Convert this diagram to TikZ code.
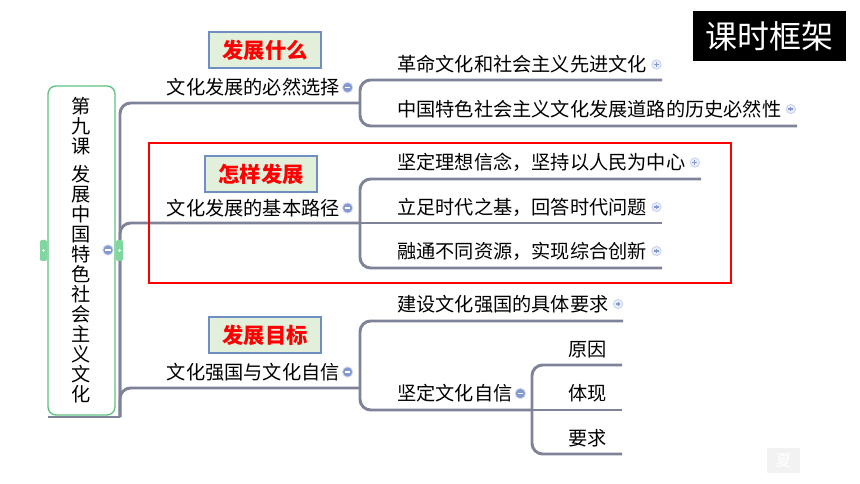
\documentclass[tikz,border=0pt]{standalone}
\usepackage{fontspec}
\setmainfont{Noto Sans CJK SC}
\usepackage{tikz}
\usetikzlibrary{positioning}
\definecolor{linegray}{HTML}{7F8399}
\definecolor{tagfill}{HTML}{E2EFDA}
\definecolor{tagdraw}{HTML}{6F8FC3}
\definecolor{rootgreen}{HTML}{5CC27E}
\definecolor{tabgreen}{HTML}{7FD69E}
\definecolor{signblue}{HTML}{8399D0}
\definecolor{signpale}{HTML}{E8EDF8}

\begin{document}
\begin{tikzpicture}[x=0.75pt,y=-0.75pt]
\tikzstyle{every node}+=[inner sep=0pt]
\tikzstyle{branch}=[linegray,line width=2.2pt]
\tikzstyle{leaf}=[anchor=west,font=\fontsize{14.4}{16}\selectfont]
\tikzstyle{topic}=[anchor=east,font=\fontsize{14.4}{16}\selectfont]
\tikzstyle{tag}=[draw=tagdraw,fill=tagfill,line width=0.8pt,minimum width=84pt,minimum height=27pt,text=red,font=\fontsize{16}{17}\selectfont\bfseries]
\tikzstyle{plus}=[circle,draw=signblue!45,fill=signpale,line width=0.6pt,minimum size=7pt,
  path picture={\draw[signblue,line width=0.8pt]
    ([xshift=-1.8pt]path picture bounding box.center) -- ([xshift=1.8pt]path picture bounding box.center)
    ([yshift=-1.8pt]path picture bounding box.center) -- ([yshift=1.8pt]path picture bounding box.center);}]
\tikzstyle{minus}=[circle,draw=signblue!35,fill=signblue,line width=0.6pt,minimum size=7.8pt,
  path picture={\draw[white,line width=0.9pt]
    ([xshift=-2pt]path picture bounding box.center) -- ([xshift=2pt]path picture bounding box.center);}]
\tikzstyle{tab}=[rounded corners=1.5pt,fill=tabgreen,minimum width=5.25pt,minimum height=15.75pt,
  path picture={\draw[white,line width=0.5pt]
    ([xshift=-1.2pt]path picture bounding box.center) -- ([xshift=1.2pt]path picture bounding box.center)
    ([yshift=-1.2pt]path picture bounding box.center) -- ([yshift=1.2pt]path picture bounding box.center);}]
\tikzstyle{rootbox}=[draw=rootgreen,fill=white,line width=1pt,rounded corners=6pt,minimum width=50.25pt,minimum height=246.75pt,align=center,font=\fontsize{14.4}{15}\selectfont]
\useasboundingbox (0,0) rectangle (860,484);
% junctions and line ends
\coordinate (foot) at (48,417);
\coordinate (t0) at (120,417);
\coordinate (j1) at (360,103);
\coordinate (j2) at (360,223);
\coordinate (j3) at (360,388);
\coordinate (j4) at (532,410);
\coordinate (e11) at (662,80);
\coordinate (e12) at (797,126);
\coordinate (e21) at (701,179);
\coordinate (e22) at (662,223);
\coordinate (e23) at (662,268);
\coordinate (e31) at (623,321);
\coordinate (e41) at (622,365);
\coordinate (e42) at (622,410);
\coordinate (e43) at (622,454);
% trunk
\draw [branch] (foot) -- (t0);
\draw [branch,rounded corners=8] (t0) |- (j1);
\draw [branch,rounded corners=8] (t0) |- (j2);
\draw [branch,rounded corners=8] (t0) |- (j3);
\draw [branch,rounded corners=8] (j1) |- (e11);
\draw [branch,rounded corners=8] (j1) |- (e12);
\draw [branch,rounded corners=8] (j2) |- (e21);
\draw [branch] (j2) -- (e22);
\draw [branch,rounded corners=8] (j2) |- (e23);
\draw [branch,rounded corners=8] (j3) |- (e31);
\draw [branch,rounded corners=8] (j3) |- (j4);
\draw [branch,rounded corners=8] (j4) |- (e41);
\draw [branch] (j4) -- (e42);
\draw [branch,rounded corners=8] (j4) |- (e43);
% root
\node [rootbox] (root) at (81.5,250.5) {第\\九\\课\\[6pt]发\\展\\中\\国\\特\\色\\社\\会\\主\\义\\文\\化};
\node [tab] (tabl) at (43.5,250.5) {};
\node [tab] (tabr) at (119.5,250.5) {};
\node [minus] (rootsign) at (108,250) {};
% topics
\node [tag] (q1) at (265,50) {发展什么};
\node [tag] (q2) at (261,174) {怎样发展};
\node [tag] (q3) at (265,335) {发展目标};
\node [topic] (t1) at (340,87.5) {文化发展的必然选择};
\node [minus,right=1.5pt of t1] (s1) {};
\node [topic] (t2) at (340,208) {文化发展的基本路径};
\node [minus,right=1.5pt of t2] (s2) {};
\node [topic] (t3) at (340,372) {文化强国与文化自信};
\node [minus,right=1.5pt of t3] (s3) {};
% leaves
\node [leaf] (a1) at (397,64.5) {革命文化和社会主义先进文化};
\node [plus,right=3.2pt of a1] (pa1) {};
\node [leaf] (a2) at (397,109) {中国特色社会主义文化发展道路的历史必然性};
\node [plus,right=3.2pt of a2] (pa2) {};
\node [leaf] (b1) at (397,162.5) {坚定理想信念，坚持以人民为中心};
\node [plus,right=3.2pt of b1] (pb1) {};
\node [leaf] (b2) at (397,207) {立足时代之基，回答时代问题};
\node [plus,right=3.2pt of b2] (pb2) {};
\node [leaf] (b3) at (397,251) {融通不同资源，实现综合创新};
\node [plus,right=3.2pt of b3] (pb3) {};
\node [leaf] (c1) at (397,304) {建设文化强国的具体要求};
\node [plus,right=3.2pt of c1] (pc1) {};
\node [leaf] (c2) at (397,393.5) {坚定文化自信};
\node [minus,right=1.5pt of c2] (pc2) {};
\node [leaf] (d1) at (568,350) {原因};
\node [leaf] (d2) at (568,393.5) {体现};
\node [leaf] (d3) at (568,438) {要求};
% frame and corner marks
\draw [red,line width=1.6pt] (149,143) rectangle (731,283);
\node [fill=black,text=white,minimum width=114.75pt,minimum height=37.5pt,font=\fontsize{24}{26}\selectfont] (title) at (769.5,36.5) {课时框架};
\node [fill=black!5,text=white,minimum width=24.75pt,minimum height=18.75pt,font=\fontsize{12}{12}\selectfont] (mark) at (783.5,460.5) {夏};
\end{tikzpicture}
\end{document}
